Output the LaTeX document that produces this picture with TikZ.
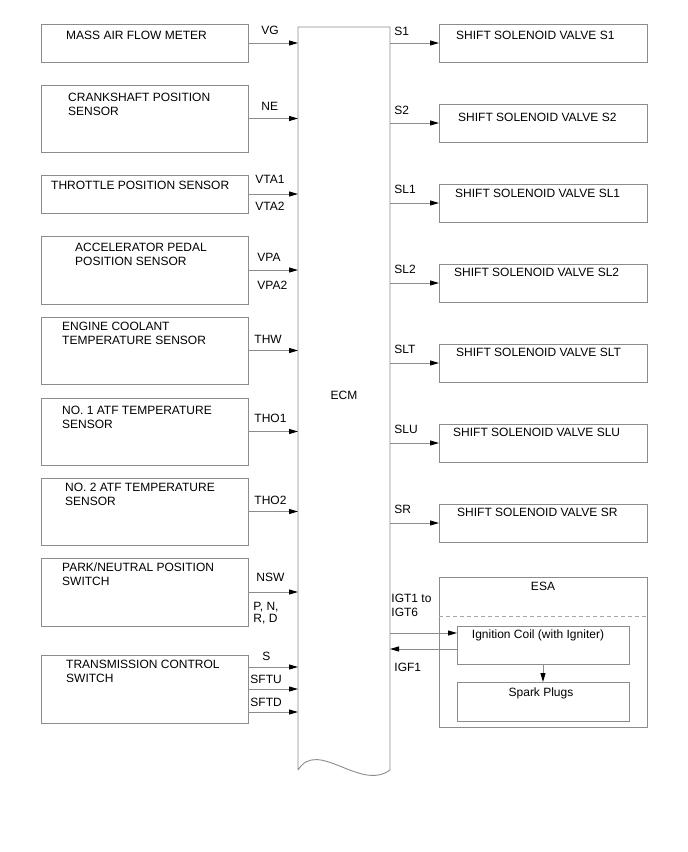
\documentclass[tikz,border=0pt]{standalone}
\usepackage{fontspec}
\setmainfont{Liberation Sans}
\usetikzlibrary{arrows.meta,calc,positioning}

\begin{document}
\begin{tikzpicture}[x=1pt, y=-1pt]
  \tikzstyle{lbox} = [rectangle, draw=black!45, line width=0.9pt, minimum width=207, inner sep=0pt, outer sep=0pt]
  \tikzstyle{rbox} = [lbox, minimum width=208, minimum height=38]
  \tikzstyle{txt} = [font=\fontsize{12}{14}\selectfont, inner sep=0pt, align=left, anchor=north west]
  \tikzstyle{lab} = [font=\fontsize{12}{14}\selectfont, inner sep=0pt, align=left, anchor=west, pos=0]
  \tikzstyle{arrow} = [draw=black!45, line width=0.9pt, -{Triangle[length=9pt,width=5pt,color=black]}]
  \tikzstyle{dashline} = [draw=black!35, line width=0.9pt, dash pattern=on 4pt off 3pt]

  \useasboundingbox[fill=white] (0,0) rectangle (688,852);

  % ECM
  \node[lbox, draw=none, minimum width=92, minimum height=736, font=\fontsize{12}{14}\selectfont] (ecm) at (344,395) {ECM};
  \draw[black!45, line width=0.9pt] ($(ecm.south west)+(0,7)$) -- (ecm.north west) -- (ecm.north east) -- ($(ecm.south east)+(0,7)$)
    .. controls +(-30,22) and +(20,-32) .. ($(ecm.south west)+(0,7)$);

  % inputs
  \node[lbox, minimum height=38] (maf) at (144.5,43) {};
  \node[txt] at ($(maf.north west)+(25,6.6)$) {MASS AIR FLOW METER};
  \node[lbox, minimum height=67] (crank) at (144.5,118.5) {};
  \node[txt] at ($(crank.north west)+(27,7.6)$) {CRANKSHAFT POSITION\\SENSOR};
  \node[lbox, minimum height=38] (tps) at (144.5,194) {};
  \node[txt] at ($(tps.north west)+(10,5.6)$) {THROTTLE POSITION SENSOR};
  \node[lbox, minimum height=68] (app) at (144.5,270) {};
  \node[txt] at ($(app.north west)+(34,6.6)$) {ACCELERATOR PEDAL\\POSITION SENSOR};
  \node[lbox, minimum height=67] (ect) at (144.5,350.5) {};
  \node[txt] at ($(ect.north west)+(21,4.6)$) {ENGINE COOLANT\\TEMPERATURE SENSOR};
  \node[lbox, minimum height=67] (atfa) at (144.5,431.5) {};
  \node[txt] at ($(atfa.north west)+(21,7.6)$) {NO. 1 ATF TEMPERATURE\\SENSOR};
  \node[lbox, minimum height=67] (atfb) at (144.5,511.5) {};
  \node[txt] at ($(atfb.north west)+(24,4.6)$) {NO. 2 ATF TEMPERATURE\\SENSOR};
  \node[lbox, minimum height=68] (pnp) at (144.5,592) {};
  \node[txt] at ($(pnp.north west)+(21,4.6)$) {PARK/NEUTRAL POSITION\\SWITCH};
  \node[lbox, minimum height=68] (tcs) at (144.5,689) {};
  \node[txt] at ($(tcs.north west)+(25,4.6)$) {TRANSMISSION CONTROL\\SWITCH};

  \path[arrow] (maf.east) -- node[lab, xshift=13pt, yshift=13pt] {VG} (maf.east -| ecm.west);
  \path[arrow] (crank.east) -- node[lab, xshift=13pt, yshift=12pt] {NE} (crank.east -| ecm.west);
  \path[arrow] (tps.east) -- node[lab, xshift=7pt, yshift=15pt] {VTA1}
    node[lab, xshift=7pt, yshift=-12pt] {VTA2} (tps.east -| ecm.west);
  \path[arrow] (app.east) -- node[lab, xshift=9pt, yshift=13pt] {VPA}
    node[lab, xshift=9pt, yshift=-15pt] {VPA2} (app.east -| ecm.west);
  \path[arrow] (ect.east) -- node[lab, xshift=6pt, yshift=11.5pt] {THW} (ect.east -| ecm.west);
  \path[arrow] (atfa.east) -- node[lab, xshift=6pt, yshift=13.5pt] {THO1} (atfa.east -| ecm.west);
  \path[arrow] (atfb.east) -- node[lab, xshift=6pt, yshift=11.5pt] {THO2} (atfb.east -| ecm.west);
  \path[arrow] (pnp.east) -- node[lab, xshift=8pt, yshift=15pt] {NSW}
    node[lab, xshift=5pt, yshift=-21pt, font=\fontsize{12}{12}\selectfont] {P, N,\\R, D} (pnp.east -| ecm.west);
  \coordinate (tcss) at ([yshift=22pt]tcs.east);
  \coordinate (tcsu) at (tcs.east);
  \coordinate (tcsd) at ([yshift=-23pt]tcs.east);
  \path[arrow] (tcss) -- node[lab, xshift=14pt, yshift=11pt] {S} (tcss -| ecm.west);
  \path[arrow] (tcsu) -- node[lab, xshift=2pt, yshift=10pt] {SFTU} (tcsu -| ecm.west);
  \path[arrow] (tcsd) -- node[lab, xshift=2pt, yshift=10pt] {SFTD} (tcsd -| ecm.west);

  % outputs
  \node[rbox] (sa) at (543,43) {};
  \node[txt] at ($(sa.north west)+(17,6.6)$) {SHIFT SOLENOID VALVE S1};
  \node[rbox] (sb) at (543,123) {};
  \node[txt] at ($(sb.north west)+(19,8.6)$) {SHIFT SOLENOID VALVE S2};
  \node[rbox] (sla) at (543,203) {};
  \node[txt] at ($(sla.north west)+(16,4.6)$) {SHIFT SOLENOID VALVE SL1};
  \node[rbox] (slb) at (543,283) {};
  \node[txt] at ($(slb.north west)+(15,3.6)$) {SHIFT SOLENOID VALVE SL2};
  \node[rbox] (slt) at (543,363) {};
  \node[txt] at ($(slt.north west)+(17,3.6)$) {SHIFT SOLENOID VALVE SLT};
  \node[rbox] (slu) at (543,443) {};
  \node[txt] at ($(slu.north west)+(14,3.6)$) {SHIFT SOLENOID VALVE SLU};
  \node[rbox] (sr) at (543,523) {};
  \node[txt] at ($(sr.north west)+(18,3.6)$) {SHIFT SOLENOID VALVE SR};

  \path[arrow] (sa.west -| ecm.east) -- node[lab, xshift=4pt, yshift=12pt] {S1} (sa.west);
  \path[arrow] (sb.west -| ecm.east) -- node[lab, xshift=4pt, yshift=13pt] {S2} (sb.west);
  \path[arrow] (sla.west -| ecm.east) -- node[lab, xshift=4pt, yshift=14pt] {SL1} (sla.west);
  \path[arrow] (slb.west -| ecm.east) -- node[lab, xshift=4pt, yshift=14pt] {SL2} (slb.west);
  \path[arrow] (slt.west -| ecm.east) -- node[lab, xshift=4pt, yshift=14pt] {SLT} (slt.west);
  \path[arrow] (slu.west -| ecm.east) -- node[lab, xshift=4pt, yshift=14pt] {SLU} (slu.west);
  \path[arrow] (sr.west -| ecm.east) -- node[lab, xshift=4pt, yshift=14pt] {SR} (sr.west);

  % ESA
  \node[rbox, minimum height=150] (esa) at (543,652) {};
  \node[txt, anchor=center] at ($(esa.north)+(0,9)$) {ESA};
  \draw[dashline] ($(esa.north west)+(0,39)$) -- ($(esa.north east)+(0,39)$);
  \node[lbox, minimum width=172, minimum height=38] (coil) at (543,645) {};
  \node[txt, anchor=center] at ($(coil.north)+(-5,9)$) {Ignition Coil (with Igniter)};
  \node[lbox, minimum width=172, minimum height=39] (plugs) at (543,701.5) {};
  \node[txt, anchor=center] at ($(plugs.north)+(-2,11)$) {Spark Plugs};

  \coordinate (igt) at ([yshift=12pt]coil.west);
  \coordinate (igf) at ([yshift=-4pt]coil.west);
  \path[arrow] (igt -| ecm.east) -- node[lab, xshift=1pt, yshift=28pt] {IGT1 to\\IGT6} (igt);
  \path[arrow] (igf) -- node[lab, pos=1, xshift=4pt, yshift=-18pt] {IGF1} (igf -| ecm.east);
  \path[arrow] (coil.south) -- (plugs.north);

\end{tikzpicture}
\end{document}
